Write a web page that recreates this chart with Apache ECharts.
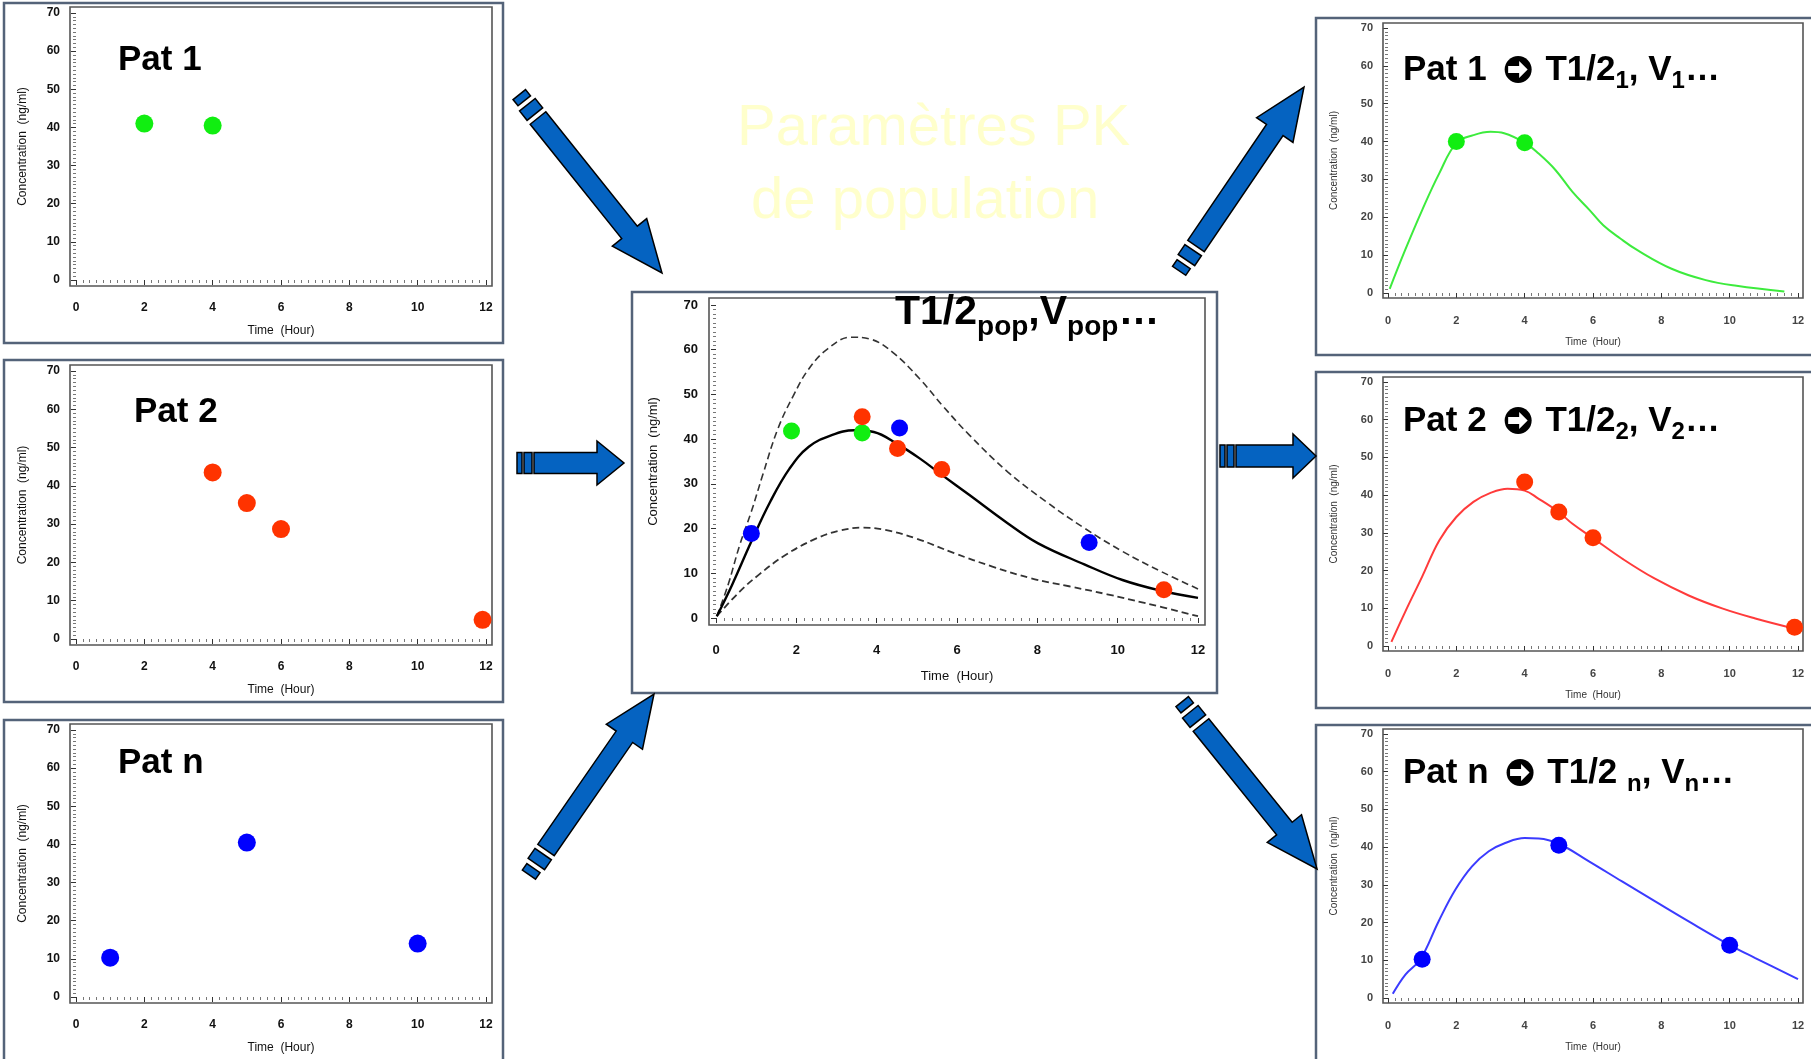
<!DOCTYPE html>
<html><head><meta charset="utf-8">
<script src="https://cdn.jsdelivr.net/npm/echarts@6/dist/echarts.min.js"></script>
<style>html,body{margin:0;padding:0;background:#fff}#c{width:1811px;height:1059px}</style>
</head><body><div id="c"></div>
<script>
// ---------------- DATA ----------------
const pat1Time = [2, 4];
const pat1Conc = [41, 40.5];
const pat2Time = [4, 5, 6, 11.9];
const pat2Conc = [43.5, 35.5, 28.7, 5];
const patNTime = [1, 5, 10];
const patNConc = [10.3, 40.5, 14];

const popGreenTime = [1.88, 3.64];
const popGreenConc = [41.8, 41.4];
const popRedTime = [3.64, 4.52, 5.62, 11.15];
const popRedConc = [45, 37.9, 33.2, 6.3];
const popBlueTime = [0.88, 4.57, 9.29];
const popBlueConc = [18.9, 42.5, 16.9];

const popMeanTime = [0.02, 0.4, 0.88, 1.35, 1.83, 2.31, 2.88, 3.45, 3.93, 4.5, 5.07, 5.64, 6.31, 7.26, 8.02, 9.17, 10.12, 11.08, 12];
const popMeanConc = [0.4, 7.4, 17.1, 26, 33.4, 38.3, 40.9, 42, 41.6, 39, 35.7, 31.9, 27.5, 21.2, 16.7, 12, 8.5, 6.1, 4.5];
const popUpperTime = [0.02, 0.3, 0.59, 0.88, 1.16, 1.54, 1.93, 2.31, 2.78, 3.36, 3.83, 4.4, 5.07, 5.64, 6.31, 7.26, 8.22, 9.17, 10.12, 11.08, 12];
const popUpperConc = [0.4, 7.4, 16.3, 23.8, 31.9, 42.3, 49.8, 55.7, 60.2, 62.8, 62.4, 59.4, 53.5, 47.5, 40.9, 32.7, 26, 20.1, 14.9, 10.4, 6.5];
const popLowerTime = [0.02, 0.59, 1.07, 1.73, 2.5, 3.07, 3.64, 4.21, 4.98, 5.93, 6.88, 7.84, 8.79, 9.74, 10.7, 12];
const popLowerConc = [0.4, 5.9, 9.7, 14.1, 17.8, 19.5, 20.2, 19.7, 17.8, 14.5, 11.5, 8.9, 7.1, 5.3, 3.3, 0.4];

const fit1Time = [0.05, 0.5, 1.0, 1.5, 2.0, 2.5, 3.0, 3.4, 4.0, 4.4, 4.9, 5.4, 5.9, 6.3, 6.8, 7.3, 8.3, 9.3, 10.2, 11.6];
const fit1Conc = [1.1, 11.3, 21.9, 31.6, 39.6, 41.7, 42.6, 42.2, 39.7, 36.9, 32.5, 26.7, 21.9, 17.9, 14.4, 11.3, 6.4, 3.4, 1.9, 0.4];
const fit1ObsConc = [40, 39.7];
const fit2Time = [0.1, 0.5, 1.0, 1.5, 2.0, 2.5, 3.0, 3.5, 4.0, 4.4, 5.0, 5.4, 6.0, 6.85, 7.8, 8.8, 9.8, 10.75, 11.9];
const fit2Conc = [1.1, 9, 18.4, 28, 34.2, 38.2, 40.6, 41.7, 41.2, 39.1, 35.5, 32.4, 28.6, 23.2, 17.9, 13.4, 9.9, 7.3, 4.6];
const fit3Time = [0.14, 0.51, 0.95, 1.48, 1.97, 2.46, 2.95, 3.43, 4.0, 4.41, 5.0, 5.87, 6.85, 7.82, 8.8, 9.99, 10.75, 12];
const fit3Conc = [1.1, 6.2, 10.3, 20.3, 28.7, 34.9, 38.9, 41.1, 42.4, 42.3, 40.9, 36.3, 30.9, 25.6, 20.3, 14.1, 10.6, 5.0];

const xTitle = 'Time  (Hour)';
const yTitle = 'Concentration  (ng/ml)';

// ---------------- LAYOUT ----------------
const FONT = '"Liberation Sans", Arial, "DejaVu Sans", sans-serif';
const zip = (a, b) => a.map((v, i) => [v, b[i]]);

const panels = [
  {g:[76,13,410,267], pad:6, frame:[4,3,499,340], ls:12, lc:'#111', lw:'bold', ns:12, nc:'#111', xm:16, xg:39, ym:10, yg:41},
  {g:[76,371,410,268], pad:6, frame:[4,360,499,342], ls:12, lc:'#111', lw:'bold', ns:12, nc:'#111', xm:16, xg:39, ym:10, yg:41},
  {g:[76,730,410,267], pad:6, frame:[4,720,499,360], ls:12, lc:'#111', lw:'bold', ns:12, nc:'#111', xm:16, xg:39, ym:10, yg:41},
  {g:[716,305,482,313], pad:7, frame:[632,292,585,401], ls:13, lc:'#111', lw:'bold', ns:13, nc:'#111', xm:19, xg:45, ym:11, yg:49},
  {g:[1388,28,410,265], pad:5, frame:[1316,18,520,337], ls:11, lc:'#444', lw:'bold', ns:10, nc:'#333', xm:17, xg:39, ym:10, yg:44},
  {g:[1388,382,410,264], pad:5, frame:[1316,372,520,336], ls:11, lc:'#444', lw:'bold', ns:10, nc:'#333', xm:17, xg:39, ym:10, yg:44},
  {g:[1388,734,410,264], pad:5, frame:[1316,725,520,360], ls:11, lc:'#444', lw:'bold', ns:10, nc:'#333', xm:17, xg:39, ym:10, yg:44}
];

const grids = [], xAxes = [], yAxes = [], graphics = [];
panels.forEach((p, i) => {
  grids.push({left:p.g[0], top:p.g[1], width:p.g[2], height:p.g[3], show:false, containLabel:false, outerBoundsMode:'none'});
  const common = {
    gridIndex:i, type:'value', offset:p.pad, nameLocation:'middle', nameMoveOverlap:false,
    nameTextStyle:{fontSize:p.ns, color:p.nc, fontFamily:FONT},
    axisLine:{show:false},
    axisTick:{show:true, inside:false, length:5, lineStyle:{color:'#333', width:1}},
    minorTick:{show:true, splitNumber:10, length:3, lineStyle:{color:'#777', width:1}},
    splitLine:{show:false}, minorSplitLine:{show:false}
  };
  xAxes.push(Object.assign({}, common, {min:0, max:12, interval:2, name:xTitle, nameGap:p.xg,
    axisLabel:{fontSize:p.ls, color:p.lc, fontWeight:p.lw, margin:p.xm, fontFamily:FONT}}));
  yAxes.push(Object.assign({}, common, {min:0, max:70, interval:10, name:yTitle, nameGap:p.yg, nameRotate:90,
    axisLabel:{fontSize:p.ls, color:p.lc, fontWeight:p.lw, margin:p.ym, fontFamily:FONT}}));
  graphics.push({type:'rect', z:1, silent:true, shape:{x:p.frame[0], y:p.frame[1], width:p.frame[2], height:p.frame[3]},
    style:{fill:'none', stroke:'#546379', lineWidth:2.5}});
  graphics.push({type:'rect', z:3, silent:true, shape:{x:p.g[0]-p.pad, y:p.g[1]-p.pad, width:p.g[2]+2*p.pad, height:p.g[3]+2*p.pad},
    style:{fill:'none', stroke:'#555', lineWidth:1.6}});
});

// ---------------- ARROWS ----------------
function arrow(sx, sy, tx, ty, shaftW, headW, headL, dashes, gap) {
  const dx = tx - sx, dy = ty - sy, L = Math.hypot(dx, dy);
  const ux = dx / L, uy = dy / L, px = -uy, py = ux;
  const P = (a, b) => [sx + ux * a + px * b, sy + uy * a + py * b];
  const hs = L - headL;
  const st = {fill:'#0563C1', stroke:'#000', lineWidth:1.5};
  graphics.push({type:'polygon', z:20, silent:true, shape:{points:[P(0,-shaftW/2), P(hs,-shaftW/2), P(hs,-headW/2), P(L,0), P(hs,headW/2), P(hs,shaftW/2), P(0,shaftW/2)]}, style:st});
  let a = 0;
  dashes.forEach(([len, w]) => {
    a -= gap;
    graphics.push({type:'polygon', z:20, silent:true, shape:{points:[P(a,-w/2), P(a,w/2), P(a-len,w/2), P(a-len,-w/2)]}, style:st});
    a -= len;
  });
}
arrow(534, 463, 624, 463, 21, 44, 27, [[8,21],[5,21]], 2);
arrow(1236, 456, 1316, 456, 22, 44, 23, [[7,22],[5,22]], 2);
arrow(538, 118, 662, 273, 20, 44, 52, [[12,20],[8,16]], 5);
arrow(546, 850, 654, 694, 20, 44, 52, [[12,20],[8,16]], 5);
arrow(1196, 246, 1304, 87, 20, 44, 52, [[12,20],[8,16]], 5);
arrow(1201, 725, 1317, 869, 20, 44, 52, [[12,20],[8,16]], 5);

// ---------------- TEXTS ----------------
const mctx = document.createElement('canvas').getContext('2d');
function runText(x, baseline, runs, drop, color, weight) {
  let cx = x;
  runs.forEach(r => {
    if (r.icon) {
      // circled rightwards arrow glyph drawn as a black disc with a white arrow
      const R = r.icon / 2, ccx = cx + r.pre + R, ccy = baseline - 12.5;
      graphics.push({type:'circle', z:50, silent:true, shape:{cx:ccx, cy:ccy, r:R}, style:{fill:'#000'}});
      graphics.push({type:'polygon', z:51, silent:true, shape:{points:[
        [ccx-10, ccy-3.6], [ccx+1, ccy-3.6], [ccx+1, ccy-8.5], [ccx+9.5, ccy], [ccx+1, ccy+8.5], [ccx+1, ccy+3.6], [ccx-10, ccy+3.6]]},
        style:{fill:'#fff'}});
      cx += r.pre + r.icon + r.post;
      return;
    }
    const font = weight + ' ' + r.s + 'px ' + FONT;
    mctx.font = font;
    const w = mctx.measureText(r.t).width;
    const bl = baseline + (r.sub ? drop : 0);
    graphics.push({type:'text', z:50, silent:true, x:cx, y:bl - 0.3465 * r.s,
      style:{text:r.t, font:font, fill:color, textAlign:'left', textVerticalAlign:'middle', align:'left', verticalAlign:'middle'}});
    cx += w;
  });
}
runText(737, 149, [{t:'Paramètres PK', s:58}], 0, '#FFFFCC', 'normal');
runText(751, 222, [{t:'de population', s:58}], 0, '#FFFFCC', 'normal');
runText(118, 72, [{t:'Pat 1', s:35}], 0, '#000', 'bold');
runText(134, 424, [{t:'Pat 2', s:35}], 0, '#000', 'bold');
runText(118, 775, [{t:'Pat n', s:35}], 0, '#000', 'bold');
runText(895, 327, [{t:'T1/2', s:41}, {t:'pop', s:28, sub:true}, {t:',V', s:41}, {t:'pop', s:28, sub:true}, {t:'…', s:41}], 10, '#000', 'bold');
const ic = {icon:27, pre:18, post:4};
runText(1403, 82, [{t:'Pat 1', s:35}, ic, {t:' T1/2', s:35}, {t:'1', s:24, sub:true}, {t:', V', s:35}, {t:'1', s:24, sub:true}, {t:'…', s:35}], 8, '#000', 'bold');
runText(1403, 433, [{t:'Pat 2', s:35}, ic, {t:' T1/2', s:35}, {t:'2', s:24, sub:true}, {t:', V', s:35}, {t:'2', s:24, sub:true}, {t:'…', s:35}], 8, '#000', 'bold');
runText(1403, 785, [{t:'Pat n', s:35}, ic, {t:' T1/2 ', s:35}, {t:'n', s:24, sub:true}, {t:', V', s:35}, {t:'n', s:24, sub:true}, {t:'…', s:35}], 8, '#000', 'bold');

// ---------------- SERIES ----------------
const GREEN = '#11EE11', RED = '#FF3300', BLUE = '#0000FF';
const sc = (gi, data, color, size) => ({type:'scatter', xAxisIndex:gi, yAxisIndex:gi, data, symbol:'circle', symbolSize:size, itemStyle:{color, opacity:1}, z:10, silent:true});
const ln = (gi, data, color, width, type) => ({type:'line', xAxisIndex:gi, yAxisIndex:gi, data, smooth:0.4, showSymbol:false, symbol:'none', lineStyle:{color, width, type}, z:5, silent:true});

const series = [
  sc(0, zip(pat1Time, pat1Conc), GREEN, 18),
  sc(1, zip(pat2Time, pat2Conc), RED, 18),
  sc(2, zip(patNTime, patNConc), BLUE, 18),
  ln(3, zip(popUpperTime, popUpperConc), '#333', 1.6, [7, 4]),
  ln(3, zip(popLowerTime, popLowerConc), '#333', 1.8, [7, 4]),
  ln(3, zip(popMeanTime, popMeanConc), '#000', 2.4, 'solid'),
  sc(3, zip(popGreenTime, popGreenConc), GREEN, 17),
  sc(3, zip(popRedTime, popRedConc), RED, 17),
  sc(3, zip(popBlueTime, popBlueConc), BLUE, 17),
  ln(4, zip(fit1Time, fit1Conc), '#3DEB3D', 2, 'solid'),
  sc(4, zip(pat1Time, fit1ObsConc), GREEN, 17),
  ln(5, zip(fit2Time, fit2Conc), '#FF3B3B', 2, 'solid'),
  sc(5, zip(pat2Time, pat2Conc), RED, 17),
  ln(6, zip(fit3Time, fit3Conc), '#3B3BFF', 2, 'solid'),
  sc(6, zip(patNTime, patNConc), BLUE, 17)
];

const chart = echarts.init(document.getElementById('c'), null, {renderer:'canvas', width:1811, height:1059});
chart.setOption({
  animation:false,
  backgroundColor:'#fff',
  textStyle:{fontFamily:FONT},
  grid:grids, xAxis:xAxes, yAxis:yAxes, series:series, graphic:graphics
});
</script></body></html>
